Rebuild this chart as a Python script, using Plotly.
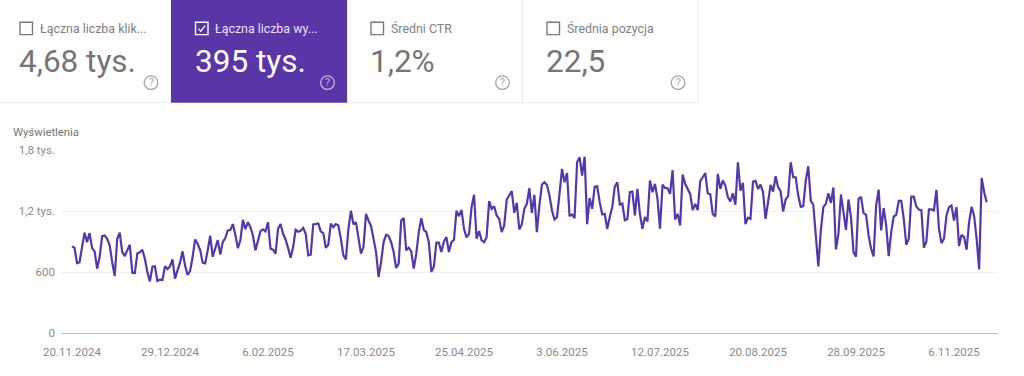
import pandas as pd
import plotly.graph_objects as go

W, H = 1024, 376
L, R, T, B = 61, 26, 149.5, 42.5

start_date = "2024-11-20"
impressions_a = [852,839,688,695,845,986,894,983,835,803,633,747,953,960,927,862,698,561,927,986,796,757,813,868,593,590,783,793,819,731,600,508,652,656,512,525,522,656,629,656,724,535,616,692,803,665,571,610,747,920,878,816,692,685,813,956,750,829,914,773,894,934,1009,1012,1071,966,835,911,1113,1022,1090]
impressions_b = [1041,960,813,911,1002,1019,999,1090,829,819,780,1025,1071,976,920,835,741,845,1015,996,1005,1035,976,764,770,1068,1071,1077,999,983,839,868,1077,1041,1071,1058,927,764,724,1025,1202,1068,1090,927,780,845,1172,1107,1051,927,796,551,698,894,966,953,894,796,639,682,1107,1130,813,839,803,633,780,992,1130,1015,992,894,600,652,888,888,796,901,943,796,894,917,1202,1149,1211,1025,940,973,1238,1359,927,1002,911,894,943,1297,1221,1247,1156,1123]
impressions_c = [992,1058,1313,1352,1395,1182,1280,1019,1068,1221,1270,1424,1182,1359,992,1254,1460,1483,1457,1352,1205,1117,1140,1368,1614,1483,1574,1149,1166,1130,1679,1728,1548,1735,1071,1326,1221,1437,1444,1287,1166,1172,1025,1140,1238,1440,1483,1264,1274,1110,1120,1385,1391,1156,1418,1172,1025,1140,1097,1499,1385,1467,1319,1025,1460,1427,1424,1368,1601,1117,1172,1058,1558,1467,1424,1368,1208,1270,1208,1493,1532,1574,1375,1365,1169,1146,1565,1418,1499,1450,1336,1293,1375,1261,1679,1401,1476,1071,1133]
impressions_d = [1123,1489,1496,1418,1460,1385,1123,1287,1457,1391,1542,1434,1395,1195,1313,1346,1679,1532,1532,1352,1241,1247,1499,1640,1300,1261,927,656,1009,1238,1270,1375,1280,1431,822,976,1362,1172,1015,1313,1140,796,750,1319,1339,1179,1162,960,829,754,1254,1411,1009,1228,1058,757,992,1146,1162,1300,1300,1123,868,927,1342,1342,1244,1215,1208,839,901,1215,1215,1205,1408,1025,884,927,1156,1238,1254,1107,1238,855,966,943,819,1090,1241,1149,927,626,1525,1385,1287]
impressions = impressions_a + impressions_b + impressions_c + impressions_d

y_ticks = [0, 600, 1200, 1800]
y_labels = ["0", "600", "1,2 tys.", "1,8 tys."]
x_ticks = ["2024-11-20","2024-12-29","2025-02-06","2025-03-17","2025-04-25","2025-06-03","2025-07-12","2025-08-20","2025-09-28","2025-11-06"]
x_labels = ["20.11.2024","29.12.2024","6.02.2025","17.03.2025","25.04.2025","3.06.2025","12.07.2025","20.08.2025","28.09.2025","6.11.2025"]

card_titles = ["Łączna liczba klik...", "Łączna liczba wy...", "Średni CTR", "Średnia pozycja"]
card_values = ["4,68 tys.", "395 tys.", "1,2%", "22,5"]
card_edges = [0, 171, 347.5, 522.5, 698]
box_lefts = [20, 195.5, 371, 547]
active_card = 1

PURPLE = "#5935A8"
LINE = "#5238AC"
GREY = "#757575"
LIGHT = "#E8E8E8"
FONT = "Roboto"

def px(x):
    return (x - L) / (W - L - R)

def py(y):
    return 1 - (y - T) / (H - T - B)

dates = pd.date_range(start_date, periods=len(impressions), freq="D")

fig = go.Figure(go.Scatter(
    x=dates, y=impressions, mode="lines",
    line=dict(color=LINE, width=2.2), hoverinfo="skip", showlegend=False,
))

shapes = []
annots = []

def rect(x0, y0, x1, y1, fill="rgba(0,0,0,0)", line=None, lw=1):
    shapes.append(dict(type="rect", xref="paper", yref="paper", layer="below",
                       x0=px(x0), x1=px(x1), y0=py(y0), y1=py(y1),
                       fillcolor=fill, line=dict(color=line or "rgba(0,0,0,0)", width=lw if line else 0)))

def text(x, y, s, size, color, anchor="left"):
    annots.append(dict(xref="paper", yref="paper", x=px(x), y=py(y), text=s, showarrow=False,
                       xanchor=anchor, yanchor="middle",
                       font=dict(family=FONT, size=size, color=color)))

for i, (title, value) in enumerate(zip(card_titles, card_values)):
    x0, x1 = card_edges[i], card_edges[i + 1]
    on = i == active_card
    ink = "#FFFFFF" if on else GREY
    if on:
        rect(x0, -2, x1, 102, fill=PURPLE)
    else:
        rect(x0 - 1 if i == 0 else x0, -2, x1, 102, line=LIGHT, lw=1)
    box_x = box_lefts[i]
    shapes.append(dict(type="rect", xref="paper", yref="paper",
                       x0=px(box_x), x1=px(box_x + 12.5), y0=py(21), y1=py(33.5),
                       line=dict(color="#FFFFFF" if on else "#7A7A7A", width=1.4)))
    if on:
        pts = [(box_x + 3, 27.5), (box_x + 5.3, 30), (box_x + 9.7, 24.5)]
        path = "M " + " L ".join(f"{px(a):.5f},{py(b):.5f}" for a, b in pts)
        shapes.append(dict(type="path", xref="paper", yref="paper", path=path,
                           line=dict(color="#FFFFFF", width=1.3)))
    text(box_x + 17.5, 27.5, title, 12.4, "#E8E0F5" if on else "#808080")
    text(box_x - 3, 61, value, 31.5, ink)
    cx = x1 - 20
    qc = "#C3B4E2" if on else "#A6A6A6"
    shapes.append(dict(type="circle", xref="paper", yref="paper",
                       x0=px(cx - 6.8), x1=px(cx + 6.8), y0=py(75), y1=py(88.6),
                       line=dict(color=qc, width=1.3)))
    text(cx, 81.8, "?", 10.5, qc, "center")

text(10.5, 132, "Wyświetlenia", 11.3, GREY)

fig.update_layout(
    width=W, height=H, autosize=False,
    margin=dict(l=L, r=R, t=T, b=B),
    paper_bgcolor="#FFFFFF", plot_bgcolor="#FFFFFF",
    font=dict(family=FONT, size=11.5, color="#8A8A8A"),
    shapes=shapes, annotations=annots, showlegend=False,
    xaxis=dict(type="date",
               range=[pd.Timestamp(start_date) - pd.Timedelta(hours=105),
                      pd.Timestamp(start_date) + pd.Timedelta(hours=24 * 368.5)],
               tickmode="array", tickvals=x_ticks, ticktext=x_labels,
               ticks="", showgrid=False, zeroline=False,
               showline=True, linecolor="#BDBDBD", linewidth=1, ticklabelstandoff=8),
    yaxis=dict(range=[0, 1800], tickmode="array", tickvals=y_ticks, ticktext=y_labels,
               ticks="", showgrid=True, gridcolor="#F0F0F0", gridwidth=1,
               zeroline=False, showline=False, ticklabelstandoff=5),
)

fig.write_html("out.html", config=dict(displayModeBar=False, responsive=False),
               post_script="document.body.style.margin='0';")
